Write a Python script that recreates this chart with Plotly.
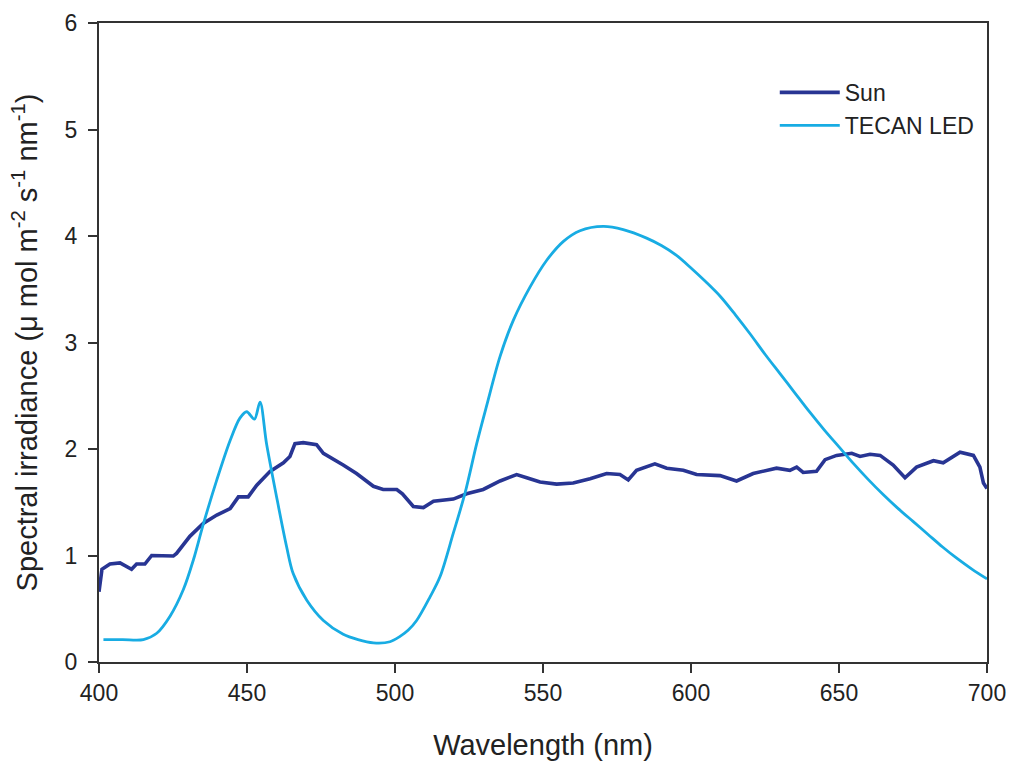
import plotly.graph_objects as go

sun_wl = [400.0, 400.3, 401.0, 403.7, 407.1, 411.0, 412.7, 415.5, 417.8, 425.1, 426.2, 430.7, 435.2,
          439.8, 444.3, 447.1, 450.4, 453.3, 457.8, 462.3, 464.5, 466.2, 469.0, 473.5, 475.8,
          482.5, 487.0, 492.7, 496.0, 500.6, 502.5, 506.2, 509.6, 513.0, 519.7, 524.2, 529.8,
          535.5, 541.1, 544.5, 549.0, 554.6, 560.2, 565.9, 571.5, 576.0, 578.8, 581.6, 587.8,
          591.8, 597.4, 601.9, 609.8, 615.4, 621.0, 628.9, 633.4, 635.7, 637.9, 642.4, 645.3,
          649.2, 654.3, 657.1, 660.5, 663.9, 668.3, 672.3, 676.2, 681.9, 685.2, 690.9, 695.4,
          697.6, 698.8, 700.0]
sun_val = [0.66, 0.72, 0.87, 0.92, 0.93, 0.87, 0.92, 0.92, 1.00, 0.995, 1.02, 1.18, 1.30,
           1.38, 1.44, 1.55, 1.55, 1.66, 1.79, 1.87, 1.93, 2.05, 2.06, 2.04, 1.96,
           1.85, 1.77, 1.65, 1.62, 1.62, 1.58, 1.46, 1.45, 1.51, 1.53, 1.58, 1.62,
           1.70, 1.76, 1.73, 1.69, 1.67, 1.68, 1.72, 1.77, 1.76, 1.71, 1.80, 1.86,
           1.82, 1.80, 1.76, 1.75, 1.70, 1.77, 1.82, 1.80, 1.83, 1.78, 1.79, 1.90,
           1.94, 1.96, 1.93, 1.95, 1.94, 1.85, 1.73, 1.83, 1.89, 1.87, 1.97, 1.94,
           1.83, 1.68, 1.63]

led_wl = [401.5, 408.0, 415.0, 419.5, 424.0, 428.5, 431.9, 435.2, 439.8, 444.3, 447.6, 449.9,
          452.5, 454.4, 456.6, 460.0, 463.4, 465.6, 470.2, 475.8, 482.5, 487.5, 492.7, 498.3,
          501.7, 504.5, 507.3, 511.8, 515.2, 519.7, 523.6, 527.6, 530.9, 535.5, 540.0, 545.6,
          551.2, 556.9, 562.5, 570.4, 577.1, 585.0, 590.0, 595.0, 600.0, 605.0, 610.0, 615.0,
          620.0, 625.0, 630.0, 635.0, 640.0, 645.0, 650.0, 655.0, 660.0, 665.0, 670.0, 675.0,
          680.0, 685.0, 690.0, 695.0, 700.0]
led_val = [0.21, 0.21, 0.21, 0.27, 0.43, 0.68, 0.96, 1.29, 1.71, 2.08, 2.29, 2.35,
           2.28, 2.44, 2.05, 1.55, 1.08, 0.83, 0.58, 0.39, 0.26, 0.21, 0.18, 0.19,
           0.24, 0.30, 0.39, 0.61, 0.80, 1.21, 1.58, 2.05, 2.40, 2.87, 3.21, 3.52,
           3.77, 3.95, 4.05, 4.09, 4.06, 3.98, 3.91, 3.82, 3.70, 3.57, 3.43, 3.26,
           3.08, 2.89, 2.71, 2.53, 2.35, 2.18, 2.02, 1.86, 1.71, 1.57, 1.44, 1.32,
           1.20, 1.08, 0.97, 0.87, 0.78]

x_ticks = [400, 450, 500, 550, 600, 650, 700]
y_ticks = [0, 1, 2, 3, 4, 5, 6]

FONT = "Liberation Sans, Arial, sans-serif"
AXC = "#333333"

fig = go.Figure()
fig.add_trace(go.Scatter(x=sun_wl, y=sun_val, mode="lines", name="Sun",
                         line=dict(color="#283593", width=3.6, shape="linear")))
fig.add_trace(go.Scatter(x=led_wl, y=led_val, mode="lines", name="TECAN LED",
                         line=dict(color="#18ACE3", width=2.8, shape="spline", smoothing=0.9)))

fig.update_layout(
    width=1010, height=768,
    margin=dict(l=99, r=23, t=23, b=106),
    paper_bgcolor="white", plot_bgcolor="white",
    font=dict(family=FONT, size=23, color="#222222"),
    showlegend=True,
    legend=dict(x=0.761, y=0.925, xanchor="left", yanchor="top",
                bgcolor="rgba(0,0,0,0)", font=dict(size=23, color="#222222"),
                itemwidth=60, tracegroupgap=0),
    xaxis=dict(range=[400, 700], tickvals=x_ticks, ticks="outside", ticklen=9, tickwidth=2,
               tickcolor=AXC, showline=True, linecolor=AXC, linewidth=2,
               mirror=True, showgrid=False, zeroline=False, automargin=False,
               tickfont=dict(size=23),
               title=dict(text="Wavelength (nm)", font=dict(size=29), standoff=30)),
    yaxis=dict(range=[0, 6], tickvals=y_ticks, ticks="outside", ticklen=9, tickwidth=2,
               tickcolor=AXC, showline=True, linecolor=AXC, linewidth=2,
               mirror=True, showgrid=False, zeroline=False, automargin=False,
               tickfont=dict(size=23), ticklabelstandoff=6,
               title=dict(text="Spectral irradiance (\u03bc mol m<sup>-2</sup> s<sup>-1</sup> nm<sup>-1</sup>)",
                          font=dict(size=29), standoff=18)),
)

fig.write_html("out.html")
